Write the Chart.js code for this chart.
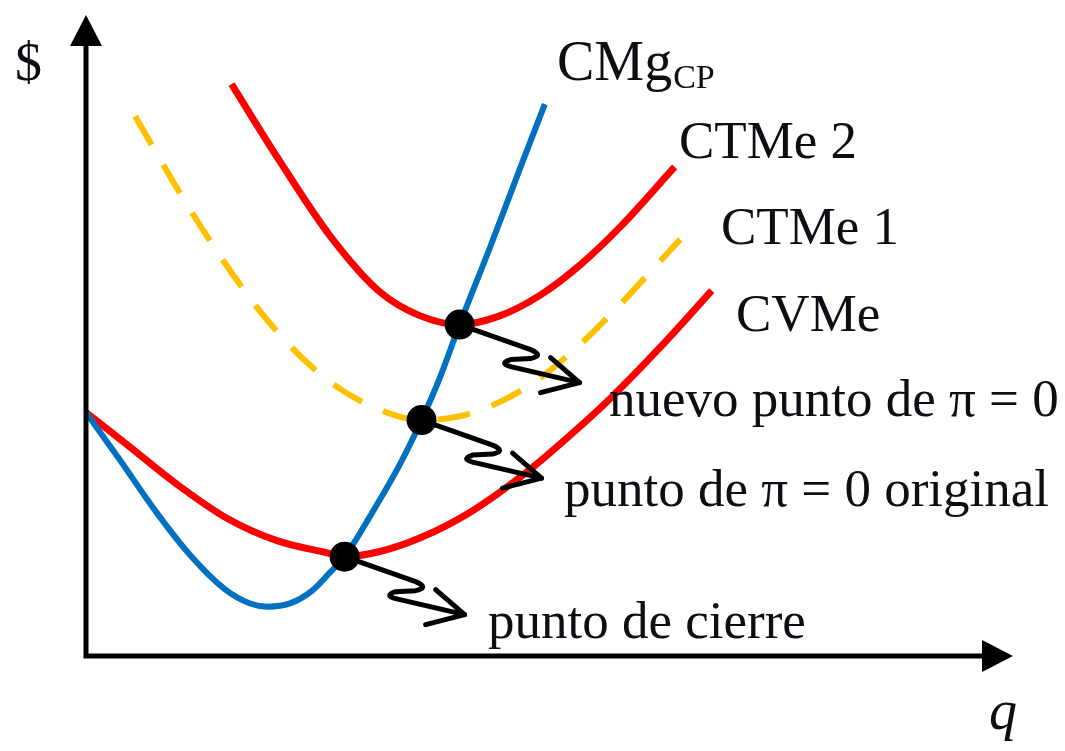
<!DOCTYPE html>
<html>
<head>
<meta charset="utf-8">
<script src="https://cdn.jsdelivr.net/npm/chart.js@4.4.1/dist/chart.umd.min.js"></script>
<style>
  html, body { margin: 0; padding: 0; background: #ffffff; }
  #wrap { width: 1065px; height: 751px; position: relative; }
</style>
</head>
<body>
<div id="wrap"><canvas id="c" width="1065" height="751"></canvas></div>
<script>
// ---- Data (q on x, $ on y, arbitrary units 0-100) ----
const cmgQ  = [0, 3.7, 7.4, 11.2, 15.0, 17.7, 19.6, 22.0, 24.4, 26.3, 27.9, 30.6, 33.9, 36.2, 38.2, 40.3, 43.6, 46.8, 49.5];
const cmgP  = [38.0, 30.5, 22.8, 15.8, 10.4, 8.2, 7.7, 8.2, 10.2, 13.0, 15.5, 21.7, 30.0, 36.8, 43.5, 51.7, 63.8, 76.0, 86.1];

const cvmeQ = [0, 4.4, 9.8, 15.2, 20.6, 26.0, 27.9, 31.7, 36.0, 41.4, 47.9, 52.2, 56.5, 61.9, 67.5];
const cvmeP = [38.0, 33.0, 26.8, 21.5, 18.0, 16.1, 15.5, 16.3, 18.4, 22.4, 29.1, 34.4, 40.1, 48.1, 57.0];

const ctme1Q = [5.3, 11.2, 17.7, 22.0, 26.3, 30.6, 36.2, 40.3, 44.6, 48.9, 53.3, 57.6, 60.8, 64.1];
const ctme1P = [84.2, 69.7, 55.8, 48.4, 42.8, 39.1, 36.8, 37.4, 39.6, 43.3, 48.6, 54.8, 59.8, 65.0];

const ctme2Q = [15.7, 20.9, 26.3, 31.7, 36.0, 40.3, 44.7, 49.0, 53.3, 57.6, 63.5];
const ctme2P = [89.2, 77.2, 65.6, 56.8, 53.1, 51.7, 53.1, 56.3, 61.0, 66.9, 76.3];

// key points: shutdown point, original zero-profit point, new zero-profit point
const dotQ = [27.9, 36.2, 40.3];
const dotP = [15.5, 36.8, 51.7];
const dotLabels = ["punto de cierre", "punto de \u03c0 = 0 original", "nuevo punto de \u03c0 = 0"];

const curveLabels = ["CMg", "CTMe 2", "CTMe 1", "CVMe"];
const axisLabels = { y: "$", x: "q" };

const zip = (a, b) => a.map((v, i) => ({ x: v, y: b[i] }));

const SERIF = '"Liberation Serif", "DejaVu Serif", serif';
const TXT = '#0d0d14';

// plugin: axes with arrowheads, squiggly arrows, text labels
const decor = {
  id: 'decor',
  beforeDatasetDraw(chart, args) {
    if (args.index !== 0) return;
    const ctx = chart.ctx;
    const xs = chart.scales.x, ys = chart.scales.y;
    const ox = xs.getPixelForValue(0), oy = ys.getPixelForValue(0);
    ctx.save();
    // squiggly arrows from each dot
    ctx.strokeStyle = '#000';
    ctx.lineWidth = 5;
    ctx.lineJoin = 'round';
    ctx.lineCap = 'round';
    dotQ.forEach((q, i) => {
      const px = xs.getPixelForValue(q), py = ys.getPixelForValue(dotP[i]);
      const B = [px + 79, py + 30], C = [px + 45, py + 37], D = [px + 120, py + 58];
      ctx.beginPath();
      ctx.moveTo(px, py);
      ctx.lineTo(B[0] - 8, B[1] - 5);
      ctx.quadraticCurveTo(B[0] + 6, B[1] + 1, B[0] - 8, B[1] + 4);
      ctx.lineTo(C[0] + 6, C[1] - 2);
      ctx.quadraticCurveTo(C[0] - 6, C[1] + 2, C[0] + 6, C[1] + 5);
      ctx.lineTo(D[0], D[1]);
      ctx.stroke();
      ctx.beginPath();
      ctx.moveTo(D[0] - 29, D[1] - 25);
      ctx.lineTo(D[0], D[1]);
      ctx.lineTo(D[0] - 39, D[1] + 10);
      ctx.stroke();
    });
    // axes
    ctx.lineCap = 'butt';
    ctx.lineWidth = 5;
    ctx.beginPath();
    ctx.moveTo(ox, oy + 2.5);
    ctx.lineTo(ox, chart.chartArea.top + 25);
    ctx.moveTo(ox - 2.5, oy);
    ctx.lineTo(chart.chartArea.right - 25, oy);
    ctx.stroke();
    ctx.fillStyle = '#000';
    const top = chart.chartArea.top, right = chart.chartArea.right;
    ctx.beginPath();
    ctx.moveTo(ox, top);
    ctx.lineTo(ox - 16, top + 31);
    ctx.lineTo(ox + 16, top + 31);
    ctx.closePath();
    ctx.fill();
    ctx.beginPath();
    ctx.moveTo(right, oy);
    ctx.lineTo(right - 31, oy - 16);
    ctx.lineTo(right - 31, oy + 16);
    ctx.closePath();
    ctx.fill();
    ctx.restore();
  },
  afterDraw(chart) {
    const ctx = chart.ctx;
    ctx.save();
    ctx.fillStyle = TXT;
    ctx.textBaseline = 'alphabetic';
    ctx.textAlign = 'left';
    // axis labels
    ctx.font = '54px ' + SERIF;
    ctx.fillText(axisLabels.y, 15, 80);
    ctx.font = 'italic 56px ' + SERIF;
    ctx.fillText(axisLabels.x, 989, 729);
    // curve labels
    ctx.font = '56px ' + SERIF;
    ctx.fillText(curveLabels[0], 557, 80);
    const w = ctx.measureText(curveLabels[0]).width;
    ctx.font = '34px ' + SERIF;
    ctx.fillText('CP', 557 + w + 1, 88);
    ctx.font = '53px ' + SERIF;
    ctx.fillText(curveLabels[1], 679, 158);
    ctx.fillText(curveLabels[2], 721, 244);
    ctx.fillText(curveLabels[3], 736, 331);
    // point labels
    ctx.fillText(dotLabels[2], 609, 416);
    ctx.fillText(dotLabels[1], 564, 506);
    ctx.fillText(dotLabels[0], 488, 638);
    ctx.restore();
  }
};

const lineDs = (data, color, width, extra) => Object.assign({
  type: 'line',
  data,
  borderColor: color,
  borderWidth: width,
  pointRadius: 0,
  cubicInterpolationMode: 'monotone',
  fill: false
}, extra || {});

new Chart(document.getElementById('c'), {
  type: 'line',
  data: {
    datasets: [
      {
        type: 'scatter',
        data: zip(dotQ, dotP),
        pointRadius: 15,
        pointBackgroundColor: '#000',
        pointBorderColor: '#000',
        pointBorderWidth: 0,
        showLine: false
      },
      lineDs(zip(cmgQ, cmgP), '#0070C0', 6),
      lineDs(zip(ctme2Q, ctme2P), '#FF0000', 7),
      lineDs(zip(ctme1Q, ctme1P), '#FFC000', 6, { borderDash: [33, 23], borderCapStyle: 'butt' }),
      lineDs(zip(cvmeQ, cvmeP), '#FF0000', 7)
    ]
  },
  options: {
    responsive: false,
    animation: false,
    events: [],
    layout: { padding: { left: 86, right: 52, top: 10, bottom: 95 } },
    plugins: { legend: { display: false }, tooltip: { enabled: false }, title: { display: false } },
    scales: {
      x: { type: 'linear', min: 0, max: 100, display: false },
      y: { type: 'linear', min: 0, max: 100, display: false }
    }
  },
  plugins: [decor]
});
</script>
</body>
</html>
